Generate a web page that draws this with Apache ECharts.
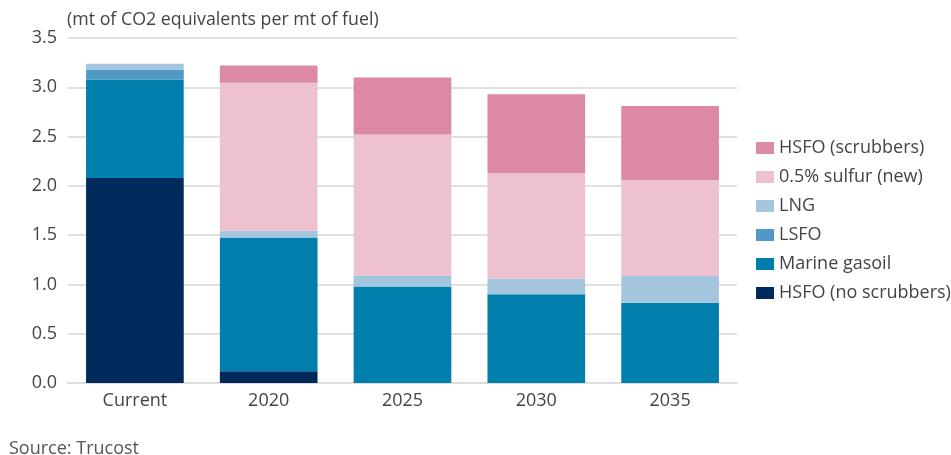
<!DOCTYPE html>
<html>
<head>
<meta charset="utf-8">
<script src="https://cdn.jsdelivr.net/npm/echarts@6/dist/echarts.min.js"></script>
<style>
  html, body { margin: 0; padding: 0; background: #fff; }
  #chart { width: 951px; height: 455px; }
</style>
</head>
<body>
<div id="chart"></div>
<script>
// categories and values
var categories = ['Current', '2020', '2025', '2030', '2035'];
var hsfoNoScrubbers = [2.08, 0.12, 0, 0, 0];
var marineGasoil   = [1.00, 1.355, 0.98, 0.90, 0.815];
var lsfo           = [0.10, 0, 0, 0, 0];
var lng            = [0.06, 0.07, 0.11, 0.16, 0.27];
var sulfurNew      = [0, 1.50, 1.43, 1.07, 0.975];
var hsfoScrubbers  = [0, 0.175, 0.58, 0.80, 0.75];

var seriesNames = ['HSFO (no scrubbers)', 'Marine gasoil', 'LSFO', 'LNG', '0.5% sulfur (new)', 'HSFO (scrubbers)'];
var seriesData = [hsfoNoScrubbers, marineGasoil, lsfo, lng, sulfurNew, hsfoScrubbers];
var colors = ['#002a5c', '#007fad', '#4f99c4', '#a3c5dd', '#edc1ce', '#dc8aa3'];

var font = '"Open Sans", sans-serif';
var chart = echarts.init(document.getElementById('chart'));

var series = seriesNames.map(function (name, i) {
  return {
    name: name,
    type: 'bar',
    stack: 'total',
    barCategoryGap: '27%',
    itemStyle: { color: colors[i] },
    data: seriesData[i]
  };
});

var option = {
  animation: false,
  textStyle: { fontFamily: font },
  graphic: [
    {
      type: 'text', left: 67, top: 11,
      style: { text: '(mt of CO2 equivalents per mt of fuel)', fontSize: 17.8, fill: '#444', fontFamily: font }
    },
    {
      type: 'text', left: 9, top: 440,
      style: { text: 'Source: Trucost', fontSize: 18, fill: '#555', fontFamily: font }
    }
  ],
  legend: {
    orient: 'vertical',
    left: 751,
    top: 134,
    itemWidth: 18,
    itemHeight: 12,
    itemGap: 11,
    icon: 'rect',
    textStyle: { fontSize: 18, color: '#444', fontFamily: font },
    data: seriesNames.slice().reverse()
  },
  grid: { left: 68, right: 214, top: 38, bottom: 72 },
  xAxis: {
    type: 'category',
    data: categories,
    axisLine: { lineStyle: { color: '#ddd', width: 2 } },
    axisTick: { show: false },
    axisLabel: { fontSize: 18, color: '#444', margin: 9, fontFamily: font }
  },
  yAxis: {
    type: 'value',
    min: 0,
    max: 3.5,
    interval: 0.5,
    axisLine: { show: false },
    axisTick: { show: false },
    axisLabel: {
      fontSize: 18, color: '#444', margin: 11, fontFamily: font,
      formatter: function (v) { return v.toFixed(1); }
    },
    splitLine: { lineStyle: { color: '#e0e0e0', width: 2 } }
  },
  series: series
};

chart.setOption(option);
</script>
</body>
</html>
